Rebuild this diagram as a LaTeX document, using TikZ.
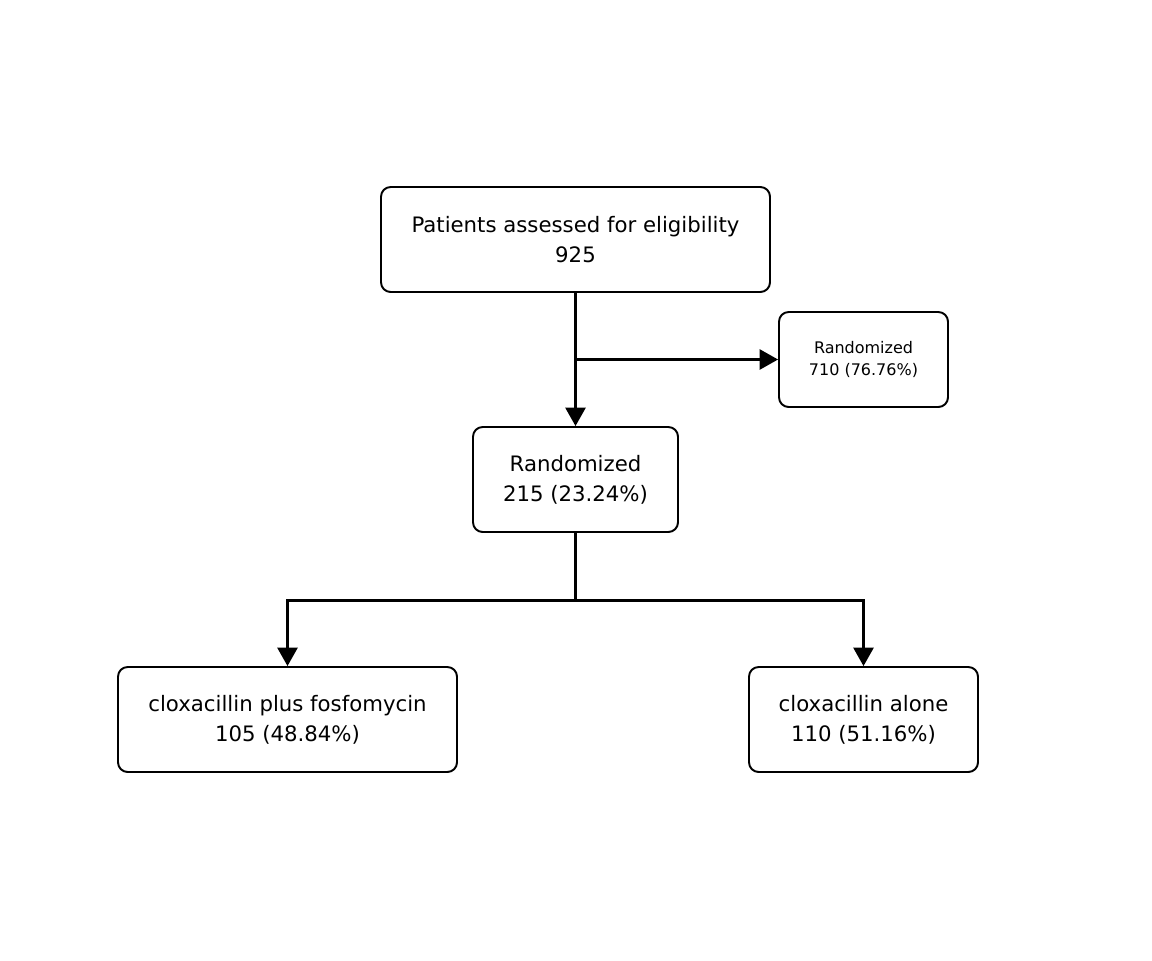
\documentclass[tikz,border=0pt]{standalone}
\usepackage{fontspec}
\setmainfont{DejaVu Sans}
\usetikzlibrary{arrows.meta, positioning}

\tikzset{
  flowbox/.style={draw, line width=1.1pt, rounded corners=5.5pt, align=center,
    inner sep=0pt, font=\fontsize{12.1}{17}\selectfont},
  smallbox/.style={flowbox, font=\fontsize{9.1}{13}\selectfont},
  flowarrow/.style={line width=1.2pt, -{Triangle[width=11.5pt,length=10.5pt]}},
  flowline/.style={line width=1.2pt}
}

\begin{document}
\begin{tikzpicture}[x=0.02cm, y=-0.02cm]
  \useasboundingbox (0,0) rectangle (1152,960);

  % assessed
  \node[flowbox, minimum width=389*0.02cm, minimum height=105*0.02cm] (assessed) at (575.5,239.5)
    {Patients assessed for eligibility\\925};
  % excluded side box
  \node[smallbox, minimum width=169*0.02cm, minimum height=95*0.02cm] (side) at (863.5,359.5)
    {Randomized\\710 (76.76\%)};
  % randomized
  \node[flowbox, minimum width=205*0.02cm, minimum height=105*0.02cm] (random) at (575.5,479.5)
    {Randomized\\215 (23.24\%)};
  % arms
  \node[flowbox, minimum width=339*0.02cm, minimum height=105*0.02cm] (armA) at (287.5,719.5)
    {cloxacillin plus fosfomycin\\105 (48.84\%)};
  \node[flowbox, minimum width=229*0.02cm, minimum height=105*0.02cm] (armB) at (863.5,719.5)
    {cloxacillin alone\\110 (51.16\%)};

  % connectors
  \draw[flowarrow] (assessed.south) -- (random.north);
  \coordinate (branch) at (assessed.south |- side.west);
  \draw[flowarrow] (branch) -- (side.west);
  \coordinate (split) at (575.5,600.5);
  \draw[flowline] (random.south) -- (split);
  \draw[flowarrow] (split) -| (armA.north);
  \draw[flowarrow] (split) -| (armB.north);
\end{tikzpicture}
\end{document}
